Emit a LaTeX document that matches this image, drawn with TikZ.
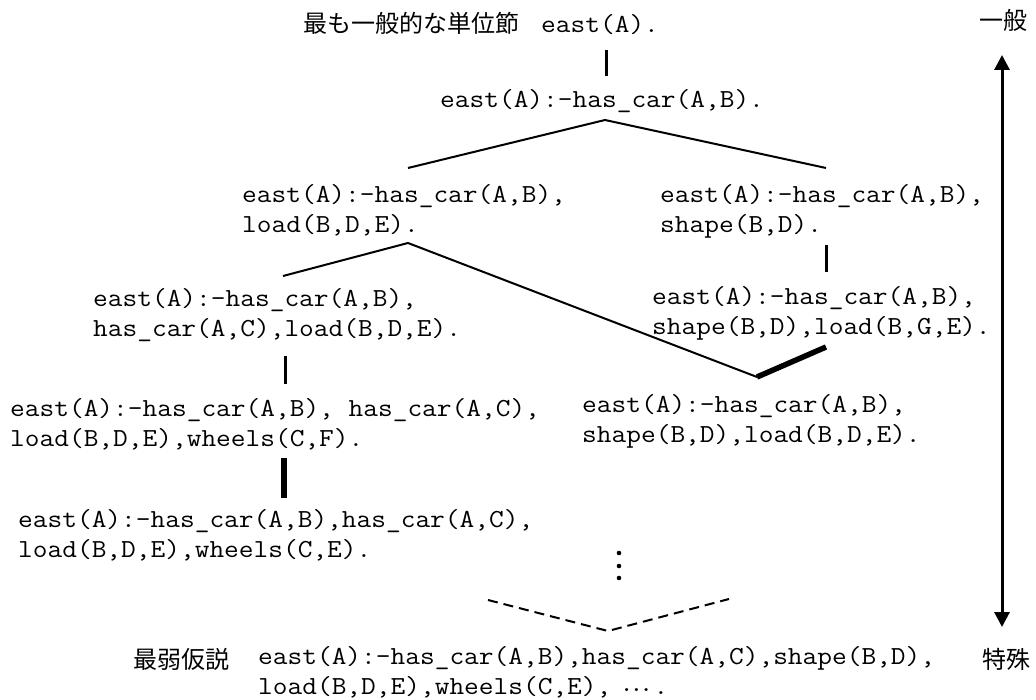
\documentclass[tikz,border=0pt]{standalone}
\usepackage{fontspec}
\setmainfont{Liberation Serif}
\newfontfamily\monof[FakeStretch=1.099]{Latin Modern Mono}
\newfontfamily\cjk{Noto Sans CJK JP}
\usetikzlibrary{arrows.meta}

\tikzset{
  clause/.style={anchor=base west, inner sep=0pt, font=\monof\fontsize{26}{30}\selectfont},
  jlabel/.style={anchor=base west, inner sep=0pt, font=\cjk\fontsize{24}{28}\selectfont},
  branch/.style={line width=2pt, line join=miter},
  link/.style={line width=3pt},
  heavy/.style={line width=5.5pt},
  guess/.style={line width=2pt, dash pattern=on 10pt off 6pt},
  scale arrow/.style={line width=3pt, {Triangle[length=15pt,width=15pt]}-{Triangle[length=15pt,width=15pt]}},
}
% two-line clause whose baseline is the first line
\newcommand\twoline[2]{\vtop{\hbox{#1}\hbox{#2}}}
% close-set ellipsis dots
\newcommand\cdotsx{\kern8pt\raisebox{3pt}{.\kern-5pt.\kern-5pt.}}

\begin{document}
\begin{tikzpicture}[x=1pt,y=-1pt]
\useasboundingbox (0,0) rectangle (1036,700);

% clauses of the refinement lattice
\node[jlabel] (topj) at (303,33) {最も一般的な単位節};
\node[clause] (c0) at (541,33) {east(A).};
\node[clause] (c1) at (440,108) {east(A):-has\_car(A,B).};
\node[clause] (c2) at (242,203) {\twoline{east(A):-has\_car(A,B),}{load(B,D,E).}};
\node[clause] (c3) at (660,203) {\twoline{east(A):-has\_car(A,B),}{shape(B,D).}};
\node[clause] (c4) at (93,307) {\twoline{east(A):-has\_car(A,B),}{has\_car(A,C),load(B,D,E).}};
\node[clause] (c5) at (652,305) {\twoline{east(A):-has\_car(A,B),}{shape(B,D),load(B,G,E).}};
\node[clause] (c6) at (10,417) {\twoline{east(A):-has\_car(A,B), has\_car(A,C),}{load(B,D,E),wheels(C,F).}};
\node[clause] (c7) at (582,412) {\twoline{east(A):-has\_car(A,B),}{shape(B,D),load(B,D,E).}};
\node[clause] (c8) at (18,527) {\twoline{east(A):-has\_car(A,B),has\_car(A,C),}{load(B,D,E),wheels(C,E).}};
\node[jlabel] (botj) at (133,668) {最弱仮説};
\node[clause] (c9) at (258,664) {\twoline{east(A):-has\_car(A,B),has\_car(A,C),shape(B,D),}{load(B,D,E),wheels(C,E),\cdotsx.}};

% generality scale
\node[jlabel] (gen) at (979,30) {一般};
\node[jlabel] (spe) at (982,668) {特殊};

% connector end points
\coordinate (c0s) at (606,50);
\coordinate (c1n) at (606,76);
\coordinate (c1s) at (605,120);
\coordinate (c2n) at (408,168);
\coordinate (c3n) at (826,168);
\coordinate (c3s) at (826,245);
\coordinate (c5n) at (826,272);
\coordinate (c2s) at (408,243);
\coordinate (c4n) at (283,276);
\coordinate (c7n) at (757,377);
\coordinate (c5s) at (826,347);
\coordinate (c4s) at (285,356);
\coordinate (c6n) at (285,384);
\coordinate (c6s) at (284,458);
\coordinate (c8n) at (284,498);
\coordinate (dl) at (488,600);
\coordinate (c9n) at (608,631);
\coordinate (dr) at (729,599);
\coordinate (gtop) at (1002,55);
\coordinate (gbot) at (1002,627);

% refinement edges
\draw[link] (c0s) -- (c1n);
\draw[branch] (c2n) -- (c1s) -- (c3n);
\draw[link] (c3s) -- (c5n);
\draw[branch] (c4n) -- (c2s) -- (c7n);
\draw[heavy] (c7n) -- (c5s);
\draw[link] (c4s) -- (c6n);
\draw[heavy, line width=6pt] (c6s) -- (c8n);

% continuation dots and the dashed approach to the weakest hypothesis
\foreach \y in {553,566,578} \fill (619,\y) circle (2.3pt);
\draw[guess] (dl) -- (c9n) -- (dr);

% arrow between general and specific
\draw[scale arrow] (gtop) -- (gbot);
\end{tikzpicture}
\end{document}
